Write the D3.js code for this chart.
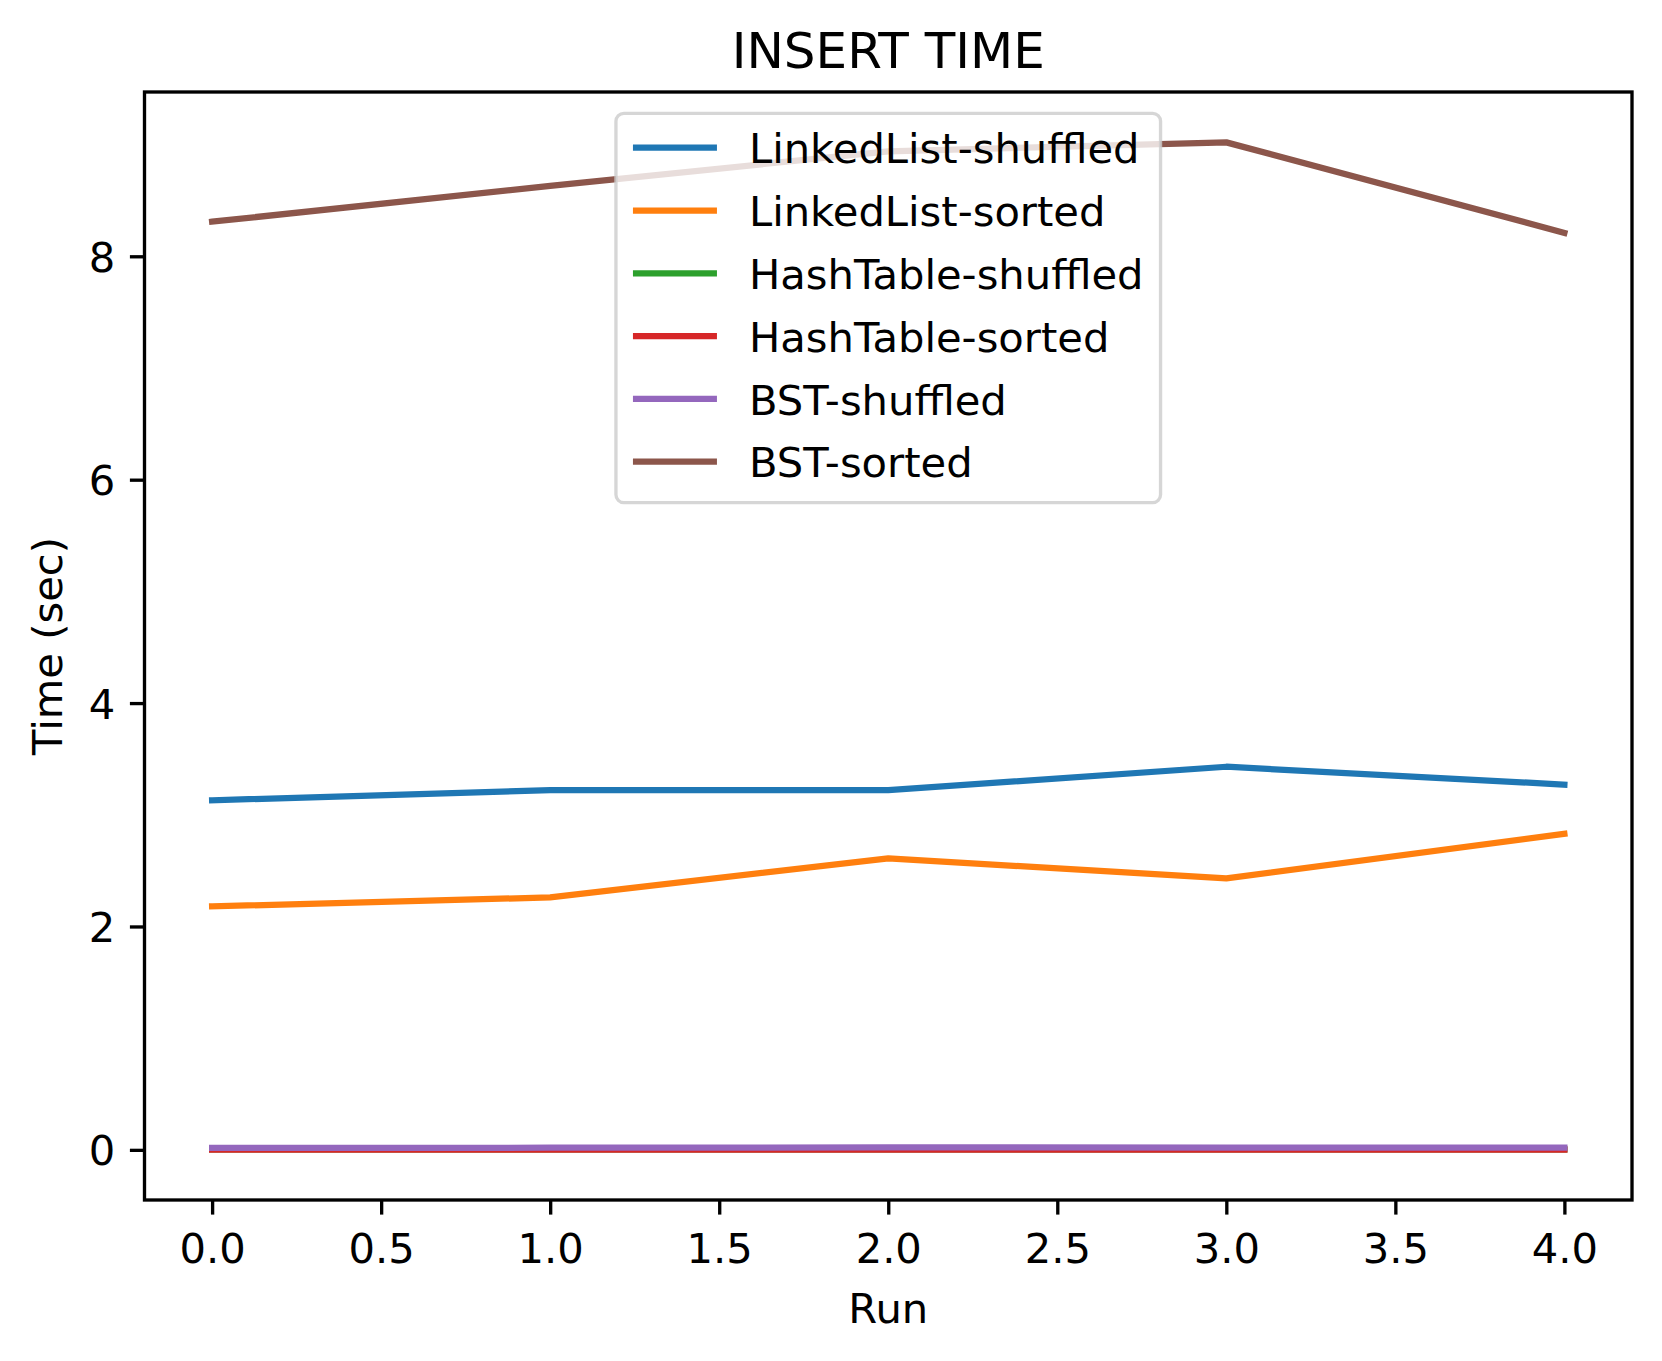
<!DOCTYPE html>
<html>
<head>
<meta charset="utf-8">
<script src="https://cdn.jsdelivr.net/npm/d3@7"></script>
<style>
  html, body { margin: 0; padding: 0; background: #fff; }
  svg { display: block; font-family: "DejaVu Sans", sans-serif; }
</style>
</head>
<body>
<svg id="chart" width="1662" height="1361"></svg>
<script>
// ---- data ----
const runs = [0, 1, 2, 3, 4];
const seriesNames = ["LinkedList-shuffled", "LinkedList-sorted", "HashTable-shuffled", "HashTable-sorted", "BST-shuffled", "BST-sorted"];
const linkedListShuffled = [3.13, 3.22, 3.22, 3.43, 3.27];
const linkedListSorted   = [2.18, 2.26, 2.61, 2.43, 2.83];
const hashTableShuffled  = [0.004, 0.004, 0.005, 0.004, 0.004];
const hashTableSorted    = [0.002, 0.002, 0.003, 0.002, 0.002];
const bstShuffled        = [0.018, 0.019, 0.022, 0.021, 0.019];
const bstSorted          = [8.31, 8.63, 8.94, 9.02, 8.21];
const seriesColors = ["#1f77b4", "#ff7f0e", "#2ca02c", "#d62728", "#9467bd", "#8c564b"];
const xTicks = [0, 0.5, 1, 1.5, 2, 2.5, 3, 3.5, 4];
const yTicks = [0, 2, 4, 6, 8];
const titleText = "INSERT TIME";
const xLabelText = "Run";
const yLabelText = "Time (sec)";

const allSeries = [linkedListShuffled, linkedListSorted, hashTableShuffled, hashTableSorted, bstShuffled, bstSorted];

// ---- layout ----
const svg = d3.select("#chart");
const L = 144.5, R = 1632, T = 92, B = 1200;
const fs = 41.67;

const xDom = d3.extent(runs);
const xPad = (xDom[1] - xDom[0]) * 0.05;
const x = d3.scaleLinear().domain([xDom[0] - xPad, xDom[1] + xPad]).range([L, R]);
const allVals = allSeries.flat();
const yMin = d3.min(allVals), yMax = d3.max(allVals);
const yPad = (yMax - yMin) * 0.05;
const y = d3.scaleLinear().domain([yMin - yPad, yMax + yPad]).range([B, T]);

// clip
svg.append("defs").append("clipPath").attr("id", "clip")
  .append("rect").attr("x", L).attr("y", T).attr("width", R - L).attr("height", B - T);

// lines
const line = d3.line().x((d, i) => x(runs[i])).y(d => y(d));
const plot = svg.append("g").attr("clip-path", "url(#clip)");
allSeries.forEach((s, k) => {
  plot.append("path")
    .datum(s)
    .attr("d", line)
    .attr("fill", "none")
    .attr("stroke", seriesColors[k])
    .attr("stroke-width", 6.25)
    .attr("stroke-linejoin", "round")
    .attr("stroke-linecap", "square");
});

// axes
const xAxis = d3.axisBottom(x).tickValues(xTicks).tickFormat(d3.format(".1f"))
  .tickSizeInner(14.6).tickSizeOuter(0).tickPadding(14.6);
const yAxis = d3.axisLeft(y).tickValues(yTicks).tickFormat(d3.format("d"))
  .tickSizeInner(14.6).tickSizeOuter(0).tickPadding(14.6);

const gx = svg.append("g").attr("transform", `translate(0,${B})`).call(xAxis);
const gy = svg.append("g").attr("transform", `translate(${L},0)`).call(yAxis);
[gx, gy].forEach(g => {
  g.select(".domain").remove();
  g.selectAll(".tick line").attr("stroke", "#000").attr("stroke-width", 3.33);
  g.selectAll(".tick text").attr("fill", "#000").attr("font-size", fs)
    .attr("font-family", "DejaVu Sans");
});
gx.selectAll(".tick text").attr("dy", null).attr("y", 63.3);
gy.selectAll(".tick text").attr("dy", "0.36em");

// frame
svg.append("rect").attr("x", L).attr("y", T).attr("width", R - L).attr("height", B - T)
  .attr("fill", "none").attr("stroke", "#000").attr("stroke-width", 3.33);

// title & labels
svg.append("text").attr("x", (L + R) / 2).attr("y", 68)
  .attr("text-anchor", "middle").attr("font-size", 50).attr("fill", "#000").text(titleText);
svg.append("text").attr("x", (L + R) / 2).attr("y", 1323.3)
  .attr("text-anchor", "middle").attr("font-size", fs).attr("fill", "#000").text(xLabelText);
svg.append("text").attr("transform", `translate(62,${(T + B) / 2}) rotate(-90)`)
  .attr("text-anchor", "middle").attr("font-size", fs).attr("fill", "#000").text(yLabelText);

// legend
const legW = 544.6, legH = 389.4;
const legX = (L + R) / 2 - legW / 2, legY = T + 21.3;
const lg = svg.append("g");
lg.append("rect").attr("x", legX).attr("y", legY).attr("width", legW).attr("height", legH)
  .attr("rx", 8).attr("ry", 8)
  .attr("fill", "#fff").attr("fill-opacity", 0.8)
  .attr("stroke", "#cccccc").attr("stroke-opacity", 0.8).attr("stroke-width", 3.33);
seriesNames.forEach((name, k) => {
  const cy = legY + 34.4 + k * 62.8;
  lg.append("line").attr("x1", legX + 17).attr("x2", legX + 101)
    .attr("y1", cy).attr("y2", cy)
    .attr("stroke", seriesColors[k]).attr("stroke-width", 6.25).attr("stroke-linecap", "butt");
  lg.append("text").attr("x", legX + 133).attr("y", cy + 15.6)
    .attr("font-size", fs).attr("fill", "#000").text(name);
});
</script>
</body>
</html>
